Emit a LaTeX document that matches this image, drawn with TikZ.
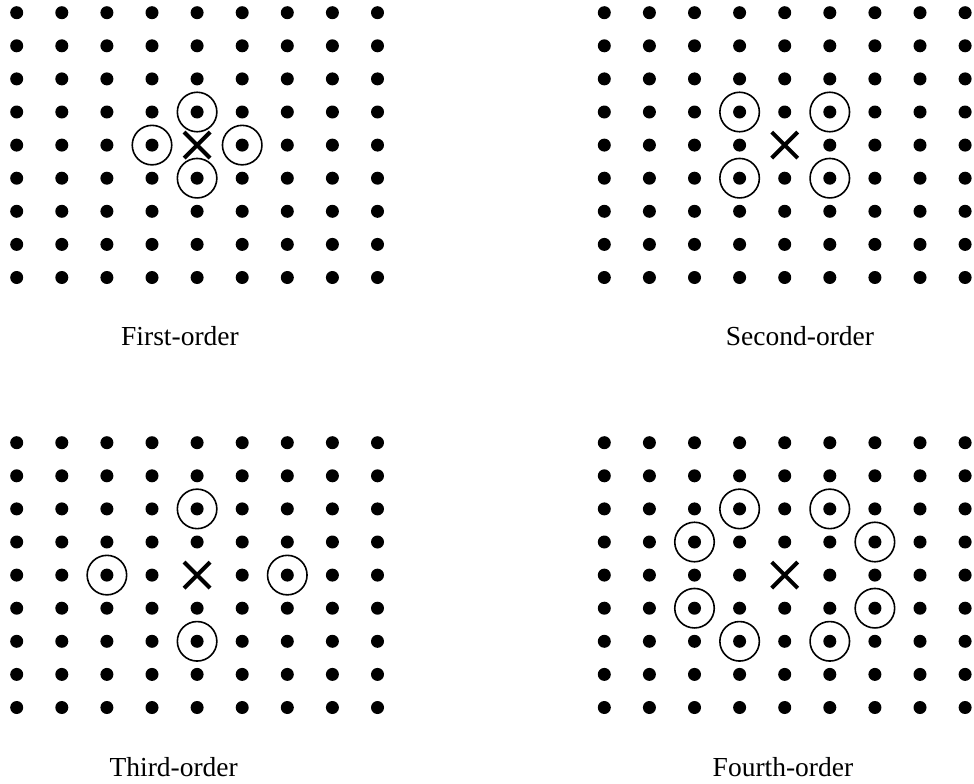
\documentclass[tikz,border=0pt]{standalone}
\usepackage{fontspec}
\setmainfont{Liberation Serif}
\usetikzlibrary{shapes.misc,positioning}

\begin{document}
\begin{tikzpicture}[
    x=1pt, y=-1pt,
    latdot/.style={circle, fill=black, inner sep=0pt, minimum size=13pt},
    ring/.style={circle, draw, line width=1.6pt, inner sep=0pt, minimum size=39.5pt},
    target/.style={cross out, draw, line width=4pt, inner sep=0pt, minimum size=22pt},
    caption/.style={font=\fontsize{27.5}{33}\selectfont, anchor=base}
]
\useasboundingbox (0,0) rectangle (974,784);

% Lattices (9x9), the centre point is the interpolation target
\foreach \g/\ox/\oy in {A/16.7/12.7, B/604.3/12.7, C/16.7/442.7, D/604.3/442.7} {
    \coordinate (\g-c) at (\ox+4*45.1, \oy+4*33.1);
    \foreach \i in {0,...,8} {
        \foreach \j in {0,...,8} {
            \pgfmathtruncatemacro\iscentre{(\i==4)&&(\j==4)}
            \ifnum\iscentre=0
                \node[latdot] (\g-\i-\j) at (\ox+\i*45.1, \oy+\j*33.1) {};
            \fi
        }
    }
    \node[target] (\g-x) at (\g-c) {};
}

% Neighbours used
\foreach \p in {A-4-3, A-3-4, A-5-4, A-4-5,
                B-3-3, B-5-3, B-3-5, B-5-5,
                C-4-2, C-2-4, C-6-4, C-4-6,
                D-3-2, D-5-2, D-2-3, D-6-3, D-2-5, D-6-5, D-3-6, D-5-6}
    \node[ring] (ring-\p) at (\p) {};

% Captions
\node[caption] (capA) at (180,345) {First-order};
\node[caption] (capB) at (800,345) {Second-order};
\node[caption] (capC) at (173.7,776) {Third-order};
\node[caption] (capD) at (783,776) {Fourth-order};

\end{tikzpicture}
\end{document}
